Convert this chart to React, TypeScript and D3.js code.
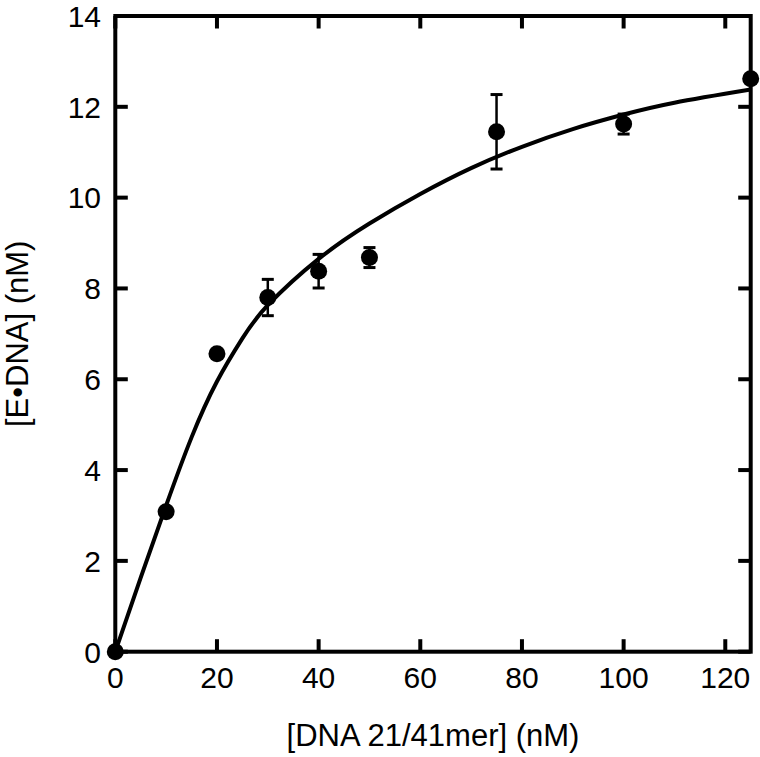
import React, { useRef, useEffect } from 'react';
import * as d3 from 'd3';

// measured points: [DNA] (nM) vs [E•DNA] (nM), with error bars
const dnaConc = [0, 10, 20, 30, 40, 50, 75, 100, 125];
const boundConc = [0, 3.08, 6.56, 7.8, 8.38, 8.68, 11.45, 11.62, 12.62];
const boundErr = [0, 0, 0, 0.4, 0.37, 0.22, 0.82, 0.22, 0];

// fitted curve
const fitX = [0, 5, 10, 15, 20, 25, 30, 40, 50, 60, 70, 80, 90, 100, 110, 125];
const fitY = [0, 1.63, 3.22, 4.72, 5.95, 6.9, 7.63, 8.65, 9.43, 10.08, 10.65, 11.12, 11.51, 11.83, 12.09, 12.38];

const xTicks = [0, 20, 40, 60, 80, 100, 120];
const yTicks = [0, 2, 4, 6, 8, 10, 12, 14];

const xTitle = '[DNA 21/41mer] (nM)';
const yTitle = '[E\u2022DNA] (nM)';

const W = 760;
const H = 757;
const FONT = '"Liberation Sans", Arial, sans-serif';

const BindingChart = () => {
  const ref = useRef<SVGSVGElement>(null);

  useEffect(() => {
    const svg = d3.select(ref.current);
    svg.selectAll('*').remove();

    const left = 115.3, right = 750.7, top = 16, bottom = 651.7;
    const x = d3.scaleLinear().domain([0, 125]).range([left, right]);
    const y = d3.scaleLinear().domain([0, 14]).range([bottom, top]);
    const tickLen = 12.5;

    const g = svg.append('g');

    // ticks on all four sides, pointing in
    xTicks.forEach(t => {
      g.append('line').attr('x1', x(t)).attr('x2', x(t))
        .attr('y1', bottom).attr('y2', bottom - tickLen)
        .attr('stroke', '#000').attr('stroke-width', 4);
      g.append('line').attr('x1', x(t)).attr('x2', x(t))
        .attr('y1', top).attr('y2', top + tickLen)
        .attr('stroke', '#000').attr('stroke-width', 4);
      g.append('text')
        .attr('x', x(t)).attr('y', 688)
        .attr('text-anchor', 'middle')
        .attr('font-family', FONT).attr('font-size', 30)
        .text(t);
    });
    yTicks.forEach(t => {
      g.append('line').attr('x1', left).attr('x2', left + tickLen)
        .attr('y1', y(t)).attr('y2', y(t))
        .attr('stroke', '#000').attr('stroke-width', 4);
      g.append('line').attr('x1', right).attr('x2', right - tickLen)
        .attr('y1', y(t)).attr('y2', y(t))
        .attr('stroke', '#000').attr('stroke-width', 4);
      g.append('text')
        .attr('x', 101).attr('y', y(t)).attr('dy', '0.36em')
        .attr('text-anchor', 'end')
        .attr('font-family', FONT).attr('font-size', 30)
        .text(t);
    });

    // frame
    g.append('rect')
      .attr('x', left).attr('y', top)
      .attr('width', right - left).attr('height', bottom - top)
      .attr('fill', 'none').attr('stroke', '#000').attr('stroke-width', 4);

    // fit curve
    const line = d3.line<number>()
      .x((_, i) => x(fitX[i]))
      .y(d => y(d))
      .curve(d3.curveNatural);
    g.append('path')
      .attr('d', line(fitY))
      .attr('fill', 'none').attr('stroke', '#000').attr('stroke-width', 4)
      .attr('stroke-linejoin', 'round');

    // error bars
    dnaConc.forEach((c, i) => {
      const e = boundErr[i];
      if (!e) return;
      const cx = x(c);
      g.append('line').attr('x1', cx).attr('x2', cx)
        .attr('y1', y(boundConc[i] - e)).attr('y2', y(boundConc[i] + e))
        .attr('stroke', '#000').attr('stroke-width', 2.5);
      [boundConc[i] - e, boundConc[i] + e].forEach(v => {
        g.append('line').attr('x1', cx - 6).attr('x2', cx + 6)
          .attr('y1', y(v)).attr('y2', y(v))
          .attr('stroke', '#000').attr('stroke-width', 3);
      });
    });

    // points
    dnaConc.forEach((c, i) => {
      g.append('circle')
        .attr('cx', x(c)).attr('cy', y(boundConc[i]))
        .attr('r', 8.5).attr('fill', '#000');
    });

    // axis titles
    g.append('text')
      .attr('x', (left + right) / 2).attr('y', 746)
      .attr('text-anchor', 'middle')
      .attr('font-family', FONT).attr('font-size', 31)
      .text(xTitle);
    g.append('text')
      .attr('transform', `translate(28, ${(top + bottom) / 2}) rotate(-90)`)
      .attr('text-anchor', 'middle')
      .attr('font-family', FONT).attr('font-size', 31)
      .text(yTitle);
  }, []);

  return <svg ref={ref} width={W} height={H} style={{ position: 'absolute', left: 0, top: 0, background: '#fff' }}></svg>;
};

export default function App() {
  return <BindingChart />;
}
